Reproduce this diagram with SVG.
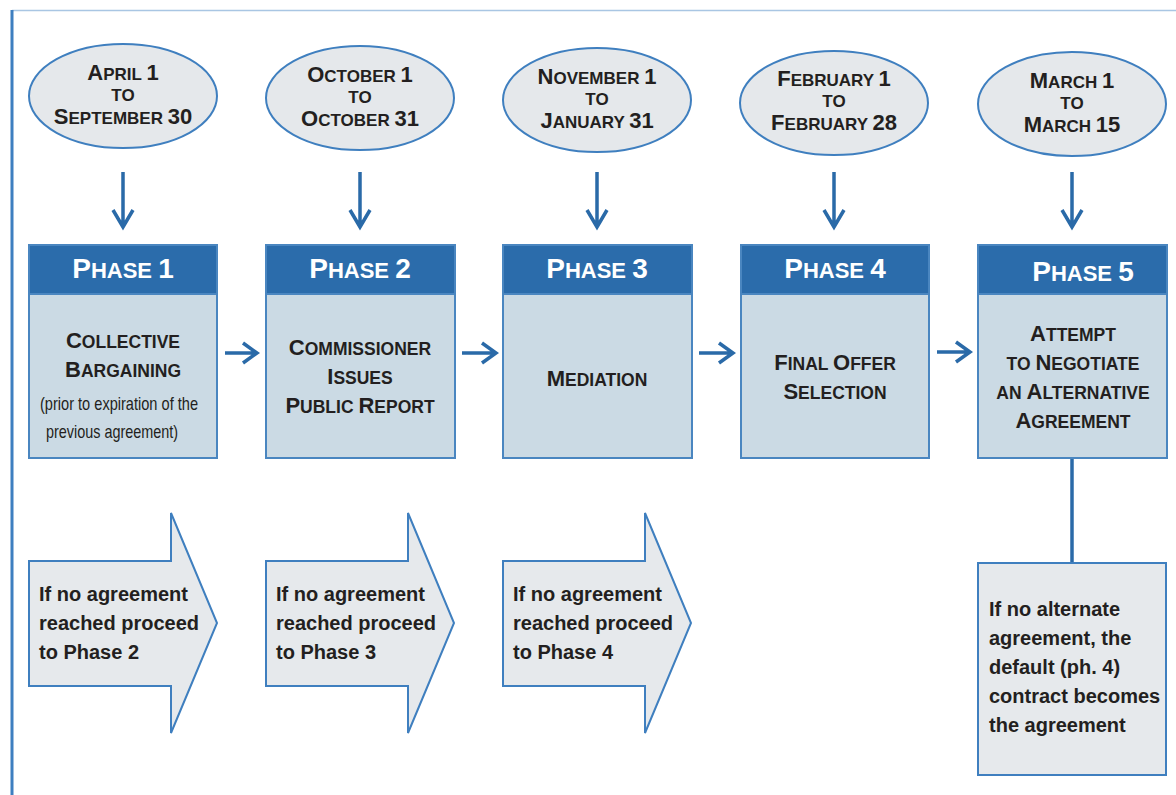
<svg xmlns="http://www.w3.org/2000/svg" width="1176" height="795" viewBox="0 0 1176 795">
<defs>
<style>
.date{fill:#e5e8eb;stroke:#3f7fbf;stroke-width:2}
.hdr{fill:#2b6cab;stroke:#4a86c0;stroke-width:2}
.body{fill:#cbdae4;stroke:#4a86c0;stroke-width:2}
.blk{fill:#e6e9ec;stroke:#3f7fbf;stroke-width:2}
.con{fill:none;stroke:#2a6aa8;stroke-width:3.5}
.t{font-family:"Liberation Sans",Arial,sans-serif;font-weight:bold;fill:#231f20;text-anchor:middle}
.h{font-family:"Liberation Sans",Arial,sans-serif;font-weight:bold;fill:#ffffff;text-anchor:middle;font-size:22px}
.h .b{font-size:28px}
.d{font-size:17px}
.d .b{font-size:22px}
.m{font-size:17.5px}
.m .b{font-size:22px}
.n{font-family:"Liberation Sans",Arial,sans-serif;font-weight:bold;fill:#231f20;font-size:20px}
.s{font-family:"Liberation Sans",Arial,sans-serif;fill:#231f20;font-size:18.5px;text-anchor:middle}
</style>
</defs>
<rect width="1176" height="795" fill="#ffffff"/>
<line x1="12" y1="10.5" x2="1176" y2="10.5" stroke="#a9c6e3" stroke-width="1.5"/>
<line x1="12" y1="10" x2="12" y2="795" stroke="#3e7fc0" stroke-width="3"/>

<g id="date1"><ellipse class="date" cx="123" cy="96" rx="94" ry="52"/>
<text class="t d" x="123" y="80"><tspan class="b">A</tspan>PRIL <tspan class="b">1</tspan></text>
<text class="t d" x="123" y="101">TO</text>
<text class="t d" x="123" y="124"><tspan class="b">S</tspan>EPTEMBER <tspan class="b">30</tspan></text></g>
<g id="date2"><ellipse class="date" cx="360" cy="98" rx="94" ry="52"/>
<text class="t d" x="360" y="82"><tspan class="b">O</tspan>CTOBER <tspan class="b">1</tspan></text>
<text class="t d" x="360" y="103">TO</text>
<text class="t d" x="360" y="126"><tspan class="b">O</tspan>CTOBER <tspan class="b">31</tspan></text></g>
<g id="date3"><ellipse class="date" cx="597" cy="100" rx="94" ry="52"/>
<text class="t d" x="597" y="84"><tspan class="b">N</tspan>OVEMBER <tspan class="b">1</tspan></text>
<text class="t d" x="597" y="105">TO</text>
<text class="t d" x="597" y="128"><tspan class="b">J</tspan>ANUARY <tspan class="b">31</tspan></text></g>
<g id="date4"><ellipse class="date" cx="834" cy="103" rx="94" ry="52"/>
<text class="t d" x="834" y="86"><tspan class="b">F</tspan>EBRUARY <tspan class="b">1</tspan></text>
<text class="t d" x="834" y="107">TO</text>
<text class="t d" x="834" y="130"><tspan class="b">F</tspan>EBRUARY <tspan class="b">28</tspan></text></g>
<g id="date5"><ellipse class="date" cx="1072" cy="104" rx="94" ry="52"/>
<text class="t d" x="1072" y="88"><tspan class="b">M</tspan>ARCH <tspan class="b">1</tspan></text>
<text class="t d" x="1072" y="109">TO</text>
<text class="t d" x="1072" y="132"><tspan class="b">M</tspan>ARCH <tspan class="b">15</tspan></text></g>

<g id="phase1"><rect class="body" x="29" y="245" width="188" height="213"/><rect class="hdr" x="29" y="245" width="188" height="49"/>
<text class="h" x="123" y="278"><tspan class="b">P</tspan>HASE <tspan class="b">1</tspan></text>
<text class="t m" x="123" y="348"><tspan class="b">C</tspan>OLLECTIVE</text>
<text class="t m" x="123" y="377"><tspan class="b">B</tspan>ARGAINING</text>
<text class="s" x="119" y="410" textLength="158" lengthAdjust="spacingAndGlyphs">(prior to expiration of the</text>
<text class="s" x="112" y="438" textLength="132" lengthAdjust="spacingAndGlyphs">previous agreement)</text></g>
<g id="phase2"><rect class="body" x="266" y="245" width="189" height="213"/><rect class="hdr" x="266" y="245" width="189" height="49"/>
<text class="h" x="360" y="278"><tspan class="b">P</tspan>HASE <tspan class="b">2</tspan></text>
<text class="t m" x="360" y="355"><tspan class="b">C</tspan>OMMISSIONER</text>
<text class="t m" x="360" y="384"><tspan class="b">I</tspan>SSUES</text>
<text class="t m" x="360" y="413"><tspan class="b">P</tspan>UBLIC <tspan class="b">R</tspan>EPORT</text></g>
<g id="phase3"><rect class="body" x="503" y="245" width="189" height="213"/><rect class="hdr" x="503" y="245" width="189" height="49"/>
<text class="h" x="597" y="278"><tspan class="b">P</tspan>HASE <tspan class="b">3</tspan></text>
<text class="t m" x="597" y="386"><tspan class="b">M</tspan>EDIATION</text></g>
<g id="phase4"><rect class="body" x="741" y="245" width="188" height="213"/><rect class="hdr" x="741" y="245" width="188" height="49"/>
<text class="h" x="835" y="278"><tspan class="b">P</tspan>HASE <tspan class="b">4</tspan></text>
<text class="t m" x="835" y="370"><tspan class="b">F</tspan>INAL <tspan class="b">O</tspan>FFER</text>
<text class="t m" x="835" y="399"><tspan class="b">S</tspan>ELECTION</text></g>
<g id="phase5"><rect class="body" x="978" y="245" width="189" height="213"/><rect class="hdr" x="978" y="245" width="189" height="49"/>
<text class="h" x="1083" y="281"><tspan class="b">P</tspan>HASE <tspan class="b">5</tspan></text>
<text class="t m" x="1073" y="341"><tspan class="b">A</tspan>TTEMPT</text>
<text class="t m" x="1073" y="370">TO <tspan class="b">N</tspan>EGOTIATE</text>
<text class="t m" x="1073" y="399">AN <tspan class="b">A</tspan>LTERNATIVE</text>
<text class="t m" x="1073" y="428"><tspan class="b">A</tspan>GREEMENT</text></g>

<g id="next1"><path class="blk" d="M29,561 H171 V513 L217,623 L171,733 V686 H29 Z"/>
<text class="n" x="39" y="601">If no agreement</text><text class="n" x="39" y="630">reached proceed</text><text class="n" x="39" y="659">to Phase 2</text></g>
<g id="next2"><path class="blk" d="M266,561 H408 V513 L454,623 L408,733 V686 H266 Z"/>
<text class="n" x="276" y="601">If no agreement</text><text class="n" x="276" y="630">reached proceed</text><text class="n" x="276" y="659">to Phase 3</text></g>
<g id="next3"><path class="blk" d="M503,561 H645 V513 L691,623 L645,733 V686 H503 Z"/>
<text class="n" x="513" y="601">If no agreement</text><text class="n" x="513" y="630">reached proceed</text><text class="n" x="513" y="659">to Phase 4</text></g>
<g id="default"><rect class="blk" x="978" y="563" width="188" height="212"/>
<text class="n" x="989" y="616">If no alternate</text><text class="n" x="989" y="645">agreement, the</text><text class="n" x="989" y="674">default (ph. 4)</text><text class="n" x="989" y="703">contract becomes</text><text class="n" x="989" y="732">the agreement</text></g>

<g id="connectors">
<path class="con" d="M123,172 V227 M113,210 L123,227 L133,210"/>
<path class="con" d="M360,172 V227 M350,210 L360,227 L370,210"/>
<path class="con" d="M597,172 V227 M587,210 L597,227 L607,210"/>
<path class="con" d="M834,172 V227 M824,210 L834,227 L844,210"/>
<path class="con" d="M1072,172 V227 M1062,210 L1072,227 L1082,210"/>
<path class="con" d="M225,353 H257 M243,343 L257,353 L243,363"/>
<path class="con" d="M462,353 H496 M482,343 L496,353 L482,363"/>
<path class="con" d="M699,353 H733 M719,343 L733,353 L719,363"/>
<path class="con" d="M937,352 H970 M956,342 L970,352 L956,362"/>
<path class="con" d="M1072,459 V562"/>
</g>
</svg>
